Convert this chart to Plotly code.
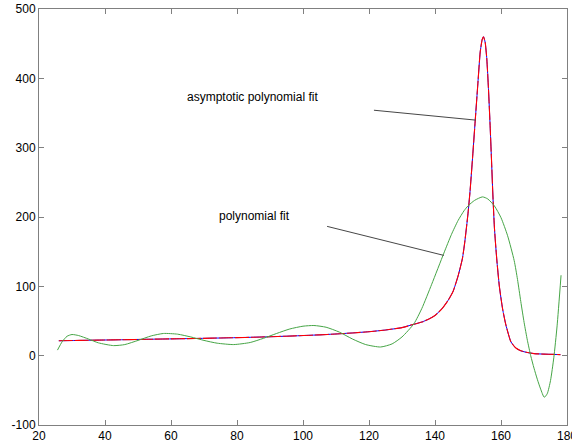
import plotly.graph_objects as go

# Measured data (blue) and asymptotic polynomial fit (red) - same curve
data_x = [26, 30, 35, 40, 45, 50, 55, 60, 65, 70, 75, 80, 85, 90, 95, 100, 105, 110, 115, 120,
          125, 130, 133, 136, 138, 140, 142, 144, 145.5, 147, 148.3, 149, 150, 150.6, 151.3,
          152.2, 153, 153.7, 154.3, 154.7, 155.2, 155.7, 156.2, 156.7, 157.1, 157.5, 158,
          158.7, 159.5, 160.5, 161.5, 163, 164.5, 166, 168, 170, 173, 176, 178]
data_y = [21.5, 21.8, 22.2, 22.6, 23.0, 23.4, 23.8, 24.2, 24.6, 25.0, 25.5, 26.0, 26.6, 27.3,
          28.1, 29.0, 30.0, 31.3, 32.8, 34.6, 37.0, 40.5, 44.5, 48.5, 52.5, 58, 67, 80, 93,
          115, 140, 163, 205, 236, 280, 340, 393, 438, 456, 460, 452, 428, 385, 332, 285,
          236, 185, 140, 100, 67, 44, 20, 11, 7, 4.5, 3, 2.2, 1.8, 1.5]

# Polynomial fit (green)
poly_x = [25.6, 27, 28.5, 30, 32, 35, 38, 42.6, 46, 50, 54, 57.7, 62, 66, 70, 74, 79, 84, 88,
          92, 96, 100, 103.3, 107, 111, 115, 119, 123.5, 127, 130, 133.6, 136, 139, 142.7, 145,
          147, 148.8, 150, 152, 154.4, 156, 158, 160, 162, 164, 165, 166, 167, 168, 169, 170,
          171, 172, 173.1, 174, 175, 176, 177, 178.2]
poly_y = [8, 20, 28, 30.5, 29, 24, 18.5, 14.5, 16, 22, 28.5, 32, 31, 27, 22, 18, 16, 19, 25,
          32, 38.5, 42.5, 43.5, 41, 34, 24, 16, 12.5, 17, 27, 46, 68, 103, 148, 175, 195, 209,
          216, 224, 229, 226, 216, 199, 173, 137, 110, 78, 48, 22, 0, -18, -34, -48, -60,
          -55, -36, -3, 43, 116]

x_ticks = [20, 40, 60, 80, 100, 120, 140, 160, 180]
y_ticks = [-100, 0, 100, 200, 300, 400, 500]

labels = ["asymptotic polynomial fit", "polynomial fit"]
label_x = [64.3, 73.9]
label_y = [373, 202]
pointer_x0 = [121.5, 107.3]
pointer_y0 = [354, 186.5]
pointer_x1 = [152.4, 142.7]
pointer_y1 = [339.7, 144.6]

fig = go.Figure()
fig.add_trace(go.Scatter(x=data_x, y=data_y, mode="lines",
                         line=dict(color="rgb(0,0,255)", width=1, shape="spline", smoothing=0.5),
                         showlegend=False, hoverinfo="skip"))
fig.add_trace(go.Scatter(x=data_x, y=data_y, mode="lines",
                         line=dict(color="rgb(255,0,0)", width=1.1, dash="14px,2px", shape="spline", smoothing=0.5),
                         showlegend=False, hoverinfo="skip"))
fig.add_trace(go.Scatter(x=poly_x, y=poly_y, mode="lines",
                         line=dict(color="rgb(70,165,70)", width=1, shape="spline", smoothing=0.6),
                         showlegend=False, hoverinfo="skip"))

for i in range(len(labels)):
    fig.add_annotation(x=label_x[i], y=label_y[i], text=labels[i], showarrow=False,
                       xanchor="left", yanchor="middle",
                       font=dict(family="Liberation Sans, Arial", size=12, color="black"))
    fig.add_shape(type="line", x0=pointer_x0[i], y0=pointer_y0[i], x1=pointer_x1[i], y1=pointer_y1[i],
                  line=dict(color="rgb(70,70,70)", width=1))

axis_common = dict(showline=True, linecolor="rgb(128,128,128)", linewidth=1, mirror="ticks",
                   ticks="inside", ticklen=5, tickcolor="rgb(128,128,128)", showgrid=False,
                   zeroline=False, automargin=False, ticklabeloverflow="allow",
                   tickfont=dict(family="Liberation Sans, Arial", size=12, color="black"))

fig.update_xaxes(range=[20, 180], tickvals=x_ticks, ticktext=[str(v) for v in x_ticks], **axis_common)
fig.update_yaxes(range=[-100, 500], tickvals=y_ticks, ticktext=[str(v) for v in y_ticks], **axis_common)

fig.update_layout(width=572, height=446, margin=dict(l=39, r=5, t=9, b=21, autoexpand=False),
                  paper_bgcolor="white", plot_bgcolor="white")

fig.write_html("out.html", config={"displayModeBar": False},
               post_script="document.body.style.margin='0';document.body.style.overflow='hidden';")
